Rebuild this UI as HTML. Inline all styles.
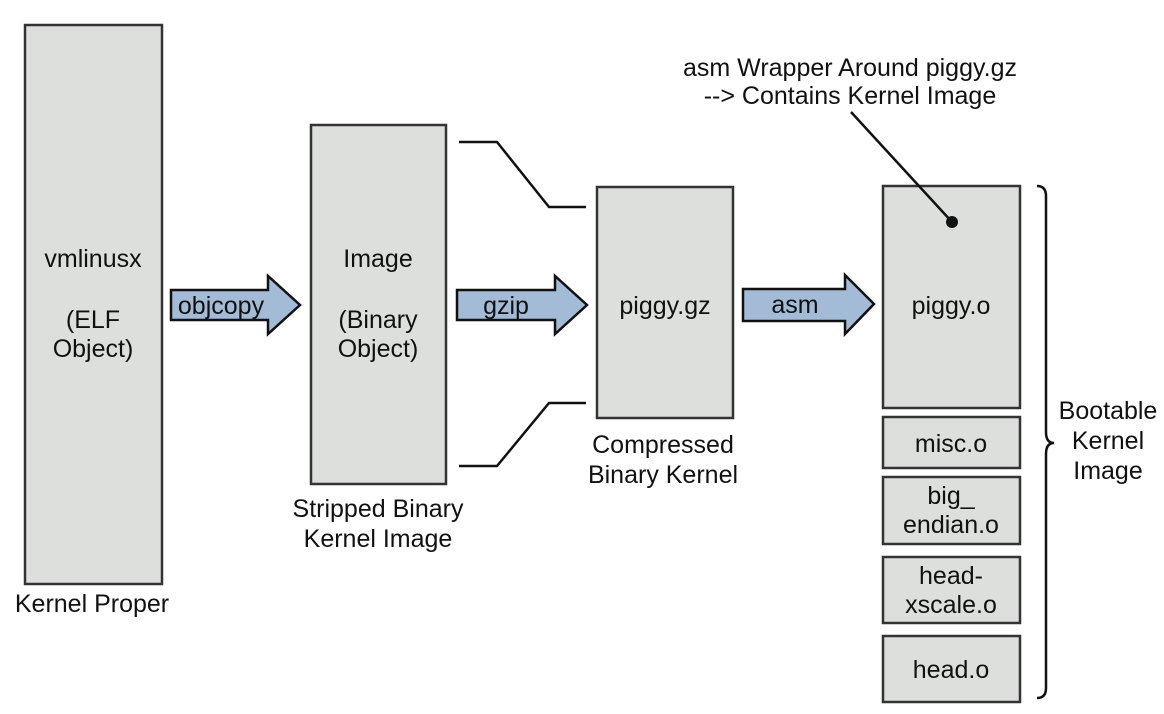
<!DOCTYPE html>
<html><head><meta charset="utf-8"><style>
html,body{margin:0;padding:0;background:#fff;}
svg{display:block;}
text{font-family:"Liberation Sans",Arial,sans-serif;font-size:25px;fill:#111;text-anchor:middle;}
.b{fill:#dcdfdc;stroke:#333;stroke-width:2.5;}
.a{fill:#a3bbd6;stroke:#111;stroke-width:2.5;stroke-linejoin:miter;}
.l{fill:none;stroke:#111;stroke-width:2.5;}
</style></head><body>
<svg width="1164" height="714" viewBox="0 0 1164 714">
<rect class="b" x="25" y="25" width="137" height="559"/>
<text x="93" y="267">vmlinusx</text>
<text x="93" y="328">(ELF</text>
<text x="93" y="357">Object)</text>
<text x="92" y="612">Kernel Proper</text>
<path class="a" d="M171,290 L268,290 L268,276 L300,305 L268,334 L268,320 L171,320 Z"/>
<text x="221" y="314">objcopy</text>
<rect class="b" x="311" y="125" width="135" height="359"/>
<text x="378" y="267">Image</text>
<text x="378" y="328">(Binary</text>
<text x="378" y="357">Object)</text>
<text x="378" y="517">Stripped Binary</text>
<text x="378" y="547">Kernel Image</text>
<path class="l" d="M459,142 L497,142 L549,207 L586,207"/>
<path class="l" d="M459,466 L497,466 L549,403 L586,403"/>
<path class="a" d="M457,290 L555,290 L555,276 L587,305 L555,334 L555,320 L457,320 Z"/>
<text x="506" y="314">gzip</text>
<rect class="b" x="597" y="187" width="136" height="231"/>
<text x="665" y="314">piggy.gz</text>
<text x="663" y="453">Compressed</text>
<text x="663" y="483">Binary Kernel</text>
<path class="a" d="M743,289 L845,289 L845,275 L874,304 L845,334 L845,321 L743,321 Z"/>
<text x="795" y="313">asm</text>
<text x="850" y="76">asm Wrapper Around piggy.gz</text>
<text x="850" y="104">--&gt; Contains Kernel Image</text>
<rect class="b" x="883" y="186" width="137" height="222"/>
<line class="l" x1="851" y1="112" x2="952" y2="222"/>
<circle cx="952" cy="222" r="6" fill="#111"/>
<text x="951" y="314">piggy.o</text>
<rect class="b" x="883" y="417" width="137" height="51"/>
<text x="951" y="452">misc.o</text>
<rect class="b" x="883" y="477" width="137" height="67"/>
<text x="951" y="504">big_</text>
<text x="951" y="533">endian.o</text>
<rect class="b" x="883" y="557" width="137" height="66"/>
<text x="951" y="584">head-</text>
<text x="951" y="613">xscale.o</text>
<rect class="b" x="883" y="636" width="137" height="66"/>
<text x="951" y="678">head.o</text>
<path class="l" d="M1037,186 Q1046,186 1046,196 L1046,432 Q1046,443 1054,443 Q1046,443 1046,454 L1046,688 Q1046,698 1037,698"/>
<text x="1108" y="419">Bootable</text>
<text x="1108" y="449">Kernel</text>
<text x="1108" y="479">Image</text>
</svg>
</body></html>
